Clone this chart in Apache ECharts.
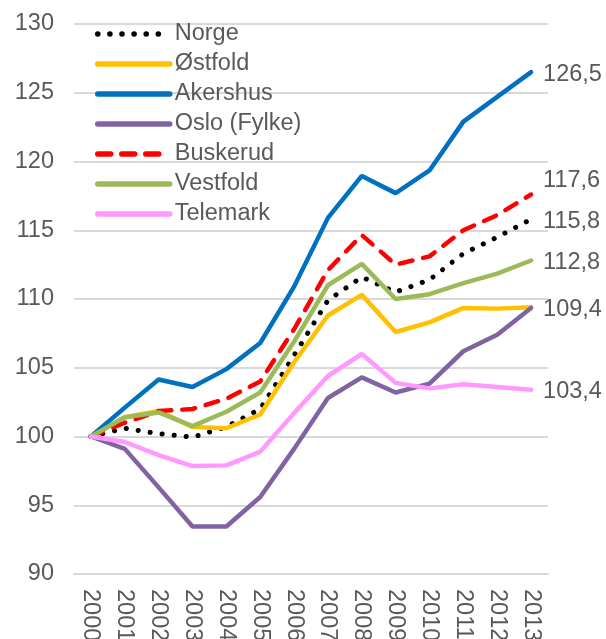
<!DOCTYPE html>
<html>
<head>
<meta charset="utf-8">
<script src="https://cdn.jsdelivr.net/npm/echarts@6/dist/echarts.min.js"></script>
<style>
html,body{margin:0;padding:0;background:#fff;}
#chart{width:606px;height:639px;}
</style>
</head>
<body>
<div id="chart"></div>
<script>
const years = ['2000','2001','2002','2003','2004','2005','2006','2007','2008','2009','2010','2011','2012','2013'];
const norge    = [100, 100.6, 100.2, 99.95, 100.7, 102.0, 105.9, 109.9, 111.6, 110.5, 111.4, 113.3, 114.5, 115.8];
const ostfold  = [100, 101.4, 101.85, 100.7, 100.6, 101.6, 105.4, 108.8, 110.3, 107.6, 108.3, 109.35, 109.3, 109.4];
const akershus = [100, 102.1, 104.15, 103.6, 104.9, 106.8, 110.9, 115.9, 118.95, 117.7, 119.35, 122.9, 124.7, 126.5];
const oslo     = [100, 99.1, 96.3, 93.45, 93.45, 95.6, 99.1, 102.8, 104.3, 103.2, 103.85, 106.2, 107.4, 109.35];
const buskerud = [100, 101.0, 101.85, 102.0, 102.75, 104.0, 107.8, 112.1, 114.65, 112.5, 113.1, 115.0, 116.1, 117.6];
const vestfold = [100, 101.4, 101.75, 100.75, 101.8, 103.2, 106.9, 111.0, 112.55, 110.0, 110.35, 111.15, 111.85, 112.8];
const telemark = [100, 99.6, 98.65, 97.85, 97.9, 98.9, 101.7, 104.4, 106.0, 103.9, 103.5, 103.8, 103.6, 103.4];

const txt = '#595959';
const fam = '"Liberation Sans", Arial, sans-serif';
const fs = 23.5;
function endLbl(show, dy) {
  return {
    show: show,
    distance: 12,
    offset: [0, dy || 0],
    color: txt,
    fontSize: fs,
    fontFamily: fam,
    formatter: p => Number(p.value).toFixed(1).replace('.', ',')
  };
}
function mk(name, data, color, type, width, cap, lbl, dy) {
  return {
    name: name, type: 'line', data: data, symbol: 'none', smooth: false,
    lineStyle: {color: color, width: width, type: type, cap: cap},
    itemStyle: {color: color},
    endLabel: endLbl(lbl, dy),
    labelLayout: {hideOverlap: false},
    animation: false
  };
}
const chart = echarts.init(document.getElementById('chart'));
chart.setOption({
  animation: false,
  grid: {left: 74, right: 58, top: 24, bottom: 65, containLabel: false, outerBoundsMode: 'none'},
  legend: {
    orient: 'vertical', left: 90, top: 14,
    itemWidth: 72, itemHeight: 14, itemGap: 0,
    itemStyle: {opacity: 0},
    lineStyle: {width: 5.5},
    textStyle: {color: txt, fontSize: fs, fontFamily: fam, lineHeight: 30},
    data: ['Norge','Østfold','Akershus','Oslo (Fylke)','Buskerud','Vestfold','Telemark']
  },
  xAxis: {
    type: 'category', data: years, boundaryGap: true,
    axisLine: {show: true, lineStyle: {color: '#d9d9d9', width: 2}},
    axisTick: {show: false},
    axisLabel: {rotate: -90, color: txt, fontSize: fs, fontFamily: fam, margin: 15, interval: 0}
  },
  yAxis: {
    type: 'value', min: 90, max: 130, interval: 5,
    axisLine: {show: false}, axisTick: {show: false},
    splitLine: {lineStyle: {color: '#d9d9d9', width: 2}},
    axisLabel: {color: txt, fontSize: fs, fontFamily: fam, margin: 20}
  },
  series: [
    mk('Norge', norge, '#000000', [0.1, 12], 5, 'round', true, 2),
    mk('Østfold', ostfold, '#FFC000', 'solid', 4.5, 'round', true, 2),
    mk('Akershus', akershus, '#0070C0', 'solid', 4.5, 'round', true, 2),
    mk('Oslo (Fylke)', oslo, '#8064A2', 'solid', 4.5, 'round', false, 0),
    mk('Buskerud', buskerud, '#FF0000', [13, 11], 4.5, 'round', true, -14),
    mk('Vestfold', vestfold, '#9BBB59', 'solid', 4.5, 'round', true, 2),
    mk('Telemark', telemark, '#FF99FF', 'solid', 4.5, 'round', true, 2)
  ]
});
</script>
</body>
</html>
